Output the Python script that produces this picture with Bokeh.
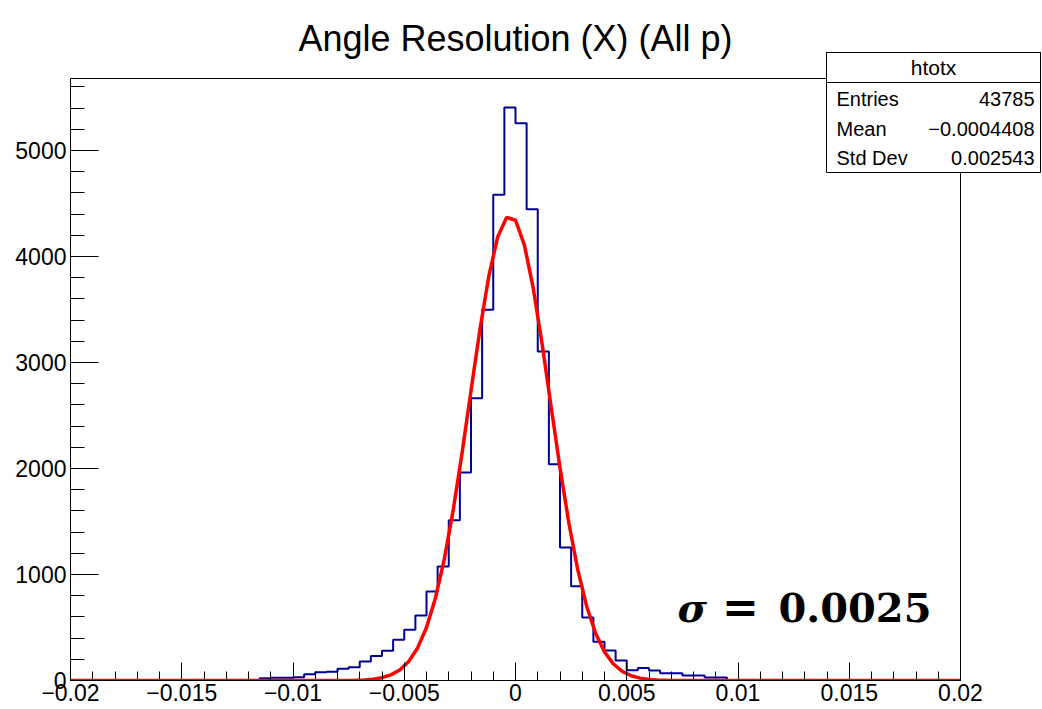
from bokeh.plotting import figure
from bokeh.models import FixedTicker, Label, BoxAnnotation, Range1d
from bokeh.embed import file_html
from bokeh.resources import INLINE
import numpy as np

# ---------------- data ----------------
title_text = "Angle Resolution (X) (All p)"
hist_lo = -0.02
hist_hi = 0.02
n_bins = 80
counts = [
    0, 0, 0, 0, 0, 0, 0, 0, 0, 0,
    0, 0, 0, 0, 0, 0, 0, 22, 26, 26,
    30, 60, 78, 82, 110, 126, 179, 230, 281, 385,
    478, 614, 840, 1075, 1511, 1963, 2662, 3497, 4582, 5406,
    5258, 4446, 3105, 2041, 1255, 890, 595, 365, 283, 189,
    96, 118, 94, 69, 69, 47, 47, 28, 28, 0,
    0, 0, 0, 0, 0, 0, 0, 0, 0, 0,
    0, 0, 0, 0, 0, 0, 0, 0, 0, 0,
]
fit_amp = 4385.0
fit_mean = -0.00025
fit_sigma = 0.0018
fit_points = 100

x_ticks = [-0.02, -0.015, -0.01, -0.005, 0.0, 0.005, 0.01, 0.015, 0.02]
x_tick_labels = ["\u22120.02", "\u22120.015", "\u22120.01", "\u22120.005", "0",
                 "0.005", "0.01", "0.015", "0.02"]
y_ticks = [0, 1000, 2000, 3000, 4000, 5000]
y_tick_labels = ["0", "1000", "2000", "3000", "4000", "5000"]
y_max = 5680

stats_title = "htotx"
stats_names = ["Entries", "Mean", "Std Dev"]
stats_values = ["43785", "\u22120.0004408", "0.002543"]
sigma_symbol = "\u03c3"
sigma_eq = "="
sigma_value = "0.0025"

# ---------------- layout ----------------
W, H = 1042, 709
FL, FR, FT, FB = 70, 960, 78, 680   # histogram frame edges in canvas pixels
# The drawing area reaches the top and right canvas edges so the stats box
# and title (which stick out of the histogram frame) are not clipped; the
# axes are bounded to the histogram range.
x_per_px = (hist_hi - hist_lo) / (FR - FL)
y_per_px = y_max / (FB - FT)
x_range = Range1d(hist_lo, hist_hi + (W - FR) * x_per_px)
y_range = Range1d(0, y_max + FT * y_per_px)

p = figure(width=W, height=H, x_range=x_range, y_range=y_range, title=None,
           output_backend="svg", toolbar_location=None,
           min_border_left=FL, min_border_top=0,
           min_border_right=0, min_border_bottom=H - FB)
p.background_fill_color = "white"
p.border_fill_color = "white"
p.outline_line_color = None
p.xgrid.visible = False
p.ygrid.visible = False

# axes
xa = p.xaxis[0]
xa.bounds = (hist_lo, hist_hi)
xa.ticker = FixedTicker(ticks=x_ticks,
                        minor_ticks=[round(v, 4) for v in np.arange(-0.02, 0.02001, 0.001)])
xa.major_label_overrides = {t: l for t, l in zip(x_ticks, x_tick_labels)}
xa.major_tick_in = 18
xa.major_tick_out = 0
xa.minor_tick_in = 9
xa.minor_tick_out = 0
xa.major_label_standoff = 3
xa.major_label_text_font = "Liberation Sans"
xa.major_label_text_font_size = "23px"
xa.major_label_text_color = "black"
xa.axis_line_color = "black"
xa.major_tick_line_color = "black"
xa.minor_tick_line_color = "black"

ya = p.yaxis[0]
ya.bounds = (0, y_max)
ya.ticker = FixedTicker(ticks=y_ticks, minor_ticks=list(range(0, 5601, 200)))
ya.major_label_overrides = {t: l for t, l in zip(y_ticks, y_tick_labels)}
ya.major_tick_in = 28
ya.major_tick_out = 0
ya.minor_tick_in = 14
ya.minor_tick_out = 0
ya.major_label_standoff = 4
ya.major_label_text_font = "Liberation Sans"
ya.major_label_text_font_size = "23px"
ya.major_label_text_color = "black"
ya.axis_line_color = "black"
ya.major_tick_line_color = "black"
ya.minor_tick_line_color = "black"

# histogram frame outline
p.add_layout(BoxAnnotation(left=hist_lo, right=hist_hi, bottom=0, top=y_max,
                           fill_alpha=0.0, line_color="black", line_width=1,
                           line_alpha=1.0, level="underlay"))

# histogram
edges = np.linspace(hist_lo, hist_hi, n_bins + 1)
step_y = list(counts) + [counts[-1]]
p.step(x=edges, y=step_y, mode="after", line_color="#000099", line_width=2)

# gaussian fit
fx = np.linspace(hist_lo, hist_hi, fit_points + 1)
fy = fit_amp * np.exp(-0.5 * ((fx - fit_mean) / fit_sigma) ** 2)
p.line(fx, fy, line_color="#ff0000", line_width=3.5)


def clabel(x, y, text, align, baseline, font, size, style="normal"):
    return Label(x=x, y=y, x_units="canvas", y_units="canvas", text=text,
                 text_align=align, text_baseline=baseline, text_font=font,
                 text_font_size=size, text_font_style=style, text_color="black",
                 level="overlay")


def cbox(left, right, top, bottom, fill_alpha):
    return BoxAnnotation(left=left, right=right, top=top, bottom=bottom,
                         left_units="canvas", right_units="canvas",
                         top_units="canvas", bottom_units="canvas",
                         fill_color="white", fill_alpha=fill_alpha,
                         line_color="black", line_width=1, line_alpha=1.0,
                         level="overlay")


# title
p.add_layout(clabel(515, 38, title_text, "center", "alphabetic", "Liberation Sans", "36px"))

# stats box
p.add_layout(cbox(826, 1040, 52, 172, 1.0))
p.add_layout(cbox(826, 1040, 52, 82, 0.0))
p.add_layout(clabel(933, 67, stats_title, "center", "middle", "Liberation Sans", "21px"))
row_y = [98, 128, 157]
for name, val, ry in zip(stats_names, stats_values, row_y):
    p.add_layout(clabel(836, ry, name, "left", "middle", "Liberation Sans", "20px"))
    p.add_layout(clabel(1034, ry, val, "right", "middle", "Liberation Sans", "20px"))

# sigma annotation
p.add_layout(clabel(677, 607, sigma_symbol, "left", "alphabetic", "DejaVu Serif", "40px", "bold italic"))
p.add_layout(clabel(740, 607, sigma_eq, "center", "alphabetic", "DejaVu Serif", "44px", "bold"))
p.add_layout(clabel(931, 607, sigma_value, "right", "alphabetic", "DejaVu Serif", "40px", "bold"))

open("out.html", "w").write(file_html(p, INLINE))
